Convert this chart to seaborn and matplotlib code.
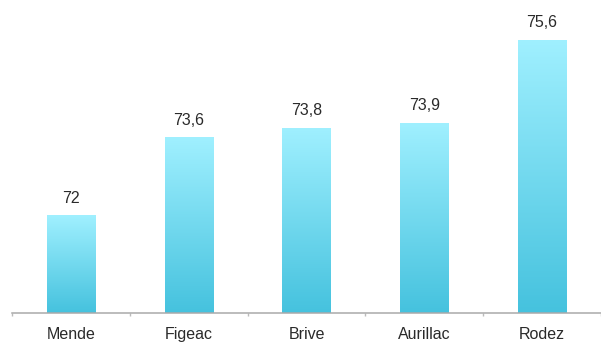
import numpy as np
import pandas as pd
import matplotlib
matplotlib.use("Agg")
import matplotlib.pyplot as plt
from matplotlib.colors import LinearSegmentedColormap
import seaborn as sns

cities = ["Mende", "Figeac", "Brive", "Aurillac", "Rodez"]
values = [72, 73.6, 73.8, 73.9, 75.6]
labels = ["72", "73,6", "73,8", "73,9", "75,6"]

sns.set_style("white")
plt.rcParams['font.family'] = ['Liberation Sans', 'DejaVu Sans']

fig = plt.figure(figsize=(6.01, 3.43), dpi=100)
ax = fig.add_axes([12/601, 30/343, 589/601, 313/343])

df = pd.DataFrame({"city": cities, "value": values})
sns.barplot(data=df, x="city", y="value", ax=ax, width=0.41, color="#6fd8ef",
            edgecolor="none")

ax.set_xlim(-0.5, -0.5 + 589/118.5)
ax.set_ylim(70, 76.42)

cmap = LinearSegmentedColormap.from_list("g", ["#45c2de", "#a0f0ff"])
grad = np.linspace(0, 1, 256).reshape(-1, 1)
for patch, lab in zip(ax.patches, labels):
    x0, y0 = patch.get_x(), 70
    w = patch.get_width()
    h = patch.get_y() + patch.get_height()
    im = ax.imshow(grad, cmap=cmap, origin="lower", aspect="auto",
                   extent=(x0, x0 + w, y0, h), zorder=patch.get_zorder() + 0.1)
    im.set_clip_path(patch)
    ax.annotate(lab, (x0 + w/2, h), xytext=(0, 7), textcoords="offset points",
                ha="center", va="bottom", fontsize=11.5, color="#2a2a2a")

ax.set_xlim(-0.5, -0.5 + 589/118.5)
ax.set_ylim(70, 76.42)

for s in ["top", "right", "left"]:
    ax.spines[s].set_visible(False)
ax.spines["bottom"].set_color("#aaaaaa")
ax.spines["bottom"].set_linewidth(1.1)
ax.set_yticks([])
ax.set_xlabel("")
ax.set_ylabel("")
ax.set_xticks(range(len(cities)))
ax.set_xticklabels(cities, fontsize=11.5, color="#2a2a2a")
ax.tick_params(axis="x", which="both", bottom=True)
ax.tick_params(axis="x", which="major", length=0, pad=10)
ax.set_xticks(np.arange(-0.5, 5, 1.0), minor=True)
ax.tick_params(axis="x", which="minor", length=2.5, color="#bbbbbb", width=1)

fig.savefig("out.png", dpi=100)
